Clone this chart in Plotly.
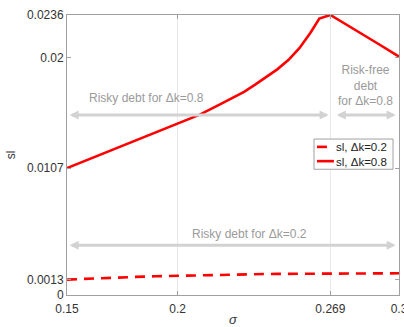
import plotly.graph_objects as go

# sigma grid and the two sl series
sigma = [0.15, 0.16, 0.17, 0.18, 0.19, 0.20, 0.21, 0.22, 0.23, 0.235, 0.24, 0.245,
         0.25, 0.255, 0.26, 0.264, 0.269, 0.28, 0.29, 0.30]
sl_k08 = [0.0107, 0.01145, 0.0122, 0.0129, 0.01365, 0.01441, 0.0152, 0.01615,
          0.01712, 0.01773, 0.01835, 0.01902, 0.0198, 0.0208, 0.0221, 0.0233, 0.0236,
          0.0224, 0.02124, 0.0201]
sl_k02 = [0.0013, 0.00139, 0.00146, 0.00152, 0.00158, 0.00163, 0.00167, 0.00171,
          0.00174, 0.00175, 0.00177, 0.00178, 0.00179, 0.0018, 0.00181, 0.00182,
          0.00182, 0.00183, 0.00183, 0.00183]

x_ticks = [0.15, 0.2, 0.269, 0.3]
x_tick_text = ["0.15", "0.2", "0.269", "0.3"]
y_ticks = [0, 0.0013, 0.0107, 0.02, 0.0236]
y_tick_text = ["0", "0.0013", "0.0107", "0.02", "0.0236"]

legend_names = ["sl, \u0394k=0.2", "sl, \u0394k=0.8"]

# regime boundaries and arrow levels
sigma_switch = 0.269
arrow_y_k08 = 0.01517
arrow_y_k02 = 0.0042

FONT = "Liberation Sans, Arial, sans-serif"
RED = "#ff0000"
GREY_TXT = "#9a9a9a"
ARROW = "#d2d2d2"
AXIS = "#a0a0a0"
DASH = "10px,7px"

fig = go.Figure()
fig.add_trace(go.Scatter(x=sigma, y=sl_k02, mode="lines", name=legend_names[0],
                         line=dict(color=RED, width=2.6, dash=DASH)))
fig.add_trace(go.Scatter(x=sigma, y=sl_k08, mode="lines", name=legend_names[1],
                         line=dict(color=RED, width=2.6)))


def double_arrow(x0, x1, y):
    fig.add_annotation(x=x1, y=y, ax=x0, ay=y, xref="x", yref="y", axref="x", ayref="y",
                       text="", showarrow=True, arrowhead=2, startarrowhead=2,
                       arrowside="end+start", arrowsize=0.6, startarrowsize=0.6,
                       arrowwidth=3, arrowcolor=ARROW)


double_arrow(0.1505, sigma_switch - 0.0008, arrow_y_k08)
double_arrow(sigma_switch + 0.0022, 0.2985, arrow_y_k08)
double_arrow(0.1505, 0.2985, arrow_y_k02)


def label(x, y, text):
    fig.add_annotation(x=x, y=y, xref="x", yref="y", text=text, showarrow=False,
                       font=dict(family=FONT, size=12, color=GREY_TXT), align="center")


label(0.186, 0.0166, "Risky debt for \u0394k=0.8")
label(0.2849, 0.0177, "Risk-free<br>debt<br>for \u0394k=0.8")
label(0.2323, 0.0051, "Risky debt for \u0394k=0.2")

# compact boxed legend (paper coordinates)
lg_x0, lg_x1, lg_y0, lg_y1 = 0.744, 0.982, 0.449, 0.557
fig.add_shape(type="rect", xref="paper", yref="paper", x0=lg_x0, x1=lg_x1, y0=lg_y0, y1=lg_y1,
              line=dict(color=AXIS, width=1), fillcolor="white", layer="above")
row_y = [0.529, 0.478]
fig.add_shape(type="line", xref="paper", yref="paper", x0=0.753, x1=0.783, y0=row_y[0], y1=row_y[0],
              line=dict(color=RED, width=2.6), layer="above")
fig.add_shape(type="line", xref="paper", yref="paper", x0=0.753, x1=0.804, y0=row_y[1], y1=row_y[1],
              line=dict(color=RED, width=2.6), layer="above")
fig.add_annotation(x=0.806, y=(row_y[0] + row_y[1]) / 2, xref="paper", yref="paper",
                   text="<br>".join(legend_names), showarrow=False, align="left",
                   xanchor="left", yanchor="middle", borderpad=0,
                   font=dict(family=FONT, size=11.5, color="#222222"))

axis_common = dict(showline=True, linecolor=AXIS, linewidth=1, mirror="ticks",
                   ticks="inside", ticklen=4, tickcolor=AXIS, zeroline=False,
                   automargin=False, ticklabeloverflow="allow",
                   tickfont=dict(family=FONT, size=12, color="#333333"))

fig.update_xaxes(range=[0.15, 0.3], tickvals=x_ticks, ticktext=x_tick_text,
                 showgrid=True, gridcolor="#e8e8e8", gridwidth=1, ticklabelstandoff=3,
                 title=dict(text="<i>\u03c3</i>", font=dict(family=FONT, size=13, color="#333333"),
                            standoff=1), **axis_common)
fig.update_yaxes(range=[0, 0.0236], tickvals=y_ticks, ticktext=y_tick_text,
                 showgrid=False,
                 title=dict(text="sl", font=dict(family=FONT, size=12, color="#333333"),
                            standoff=8), **axis_common)

fig.update_layout(
    width=404, height=327,
    margin=dict(l=67, r=5, t=15, b=32),
    paper_bgcolor="white", plot_bgcolor="white",
    font=dict(family=FONT, size=12, color="#333333"),
    showlegend=False,
)

fig.write_html("out.html")
